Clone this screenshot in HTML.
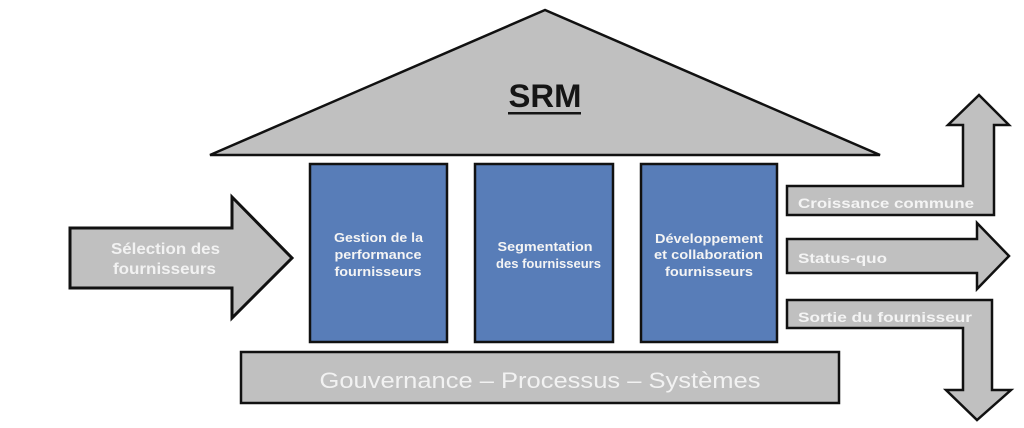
<!DOCTYPE html>
<html>
<head>
<meta charset="utf-8">
<style>
html,body{margin:0;padding:0;background:#fff;}
svg{display:block;}
text{font-family:"Liberation Sans",Arial,sans-serif;}
</style>
</head>
<body>
<svg width="1024" height="428" viewBox="0 0 1024 428" xmlns="http://www.w3.org/2000/svg">
  <rect width="1024" height="428" fill="#fff"/>
  <!-- Roof -->
  <polygon points="545,10 210,155 880,155" fill="#c0c0c0" stroke="#111" stroke-width="2.5" stroke-linejoin="miter"/>
  <text x="545" y="107" font-size="32" font-weight="bold" fill="#151515" text-anchor="middle" textLength="73" lengthAdjust="spacingAndGlyphs">SRM</text>
  <rect x="508" y="112" width="73" height="2.5" fill="#151515"/>

  <!-- Pillars -->
  <rect x="310" y="164" width="137" height="178" fill="#587db8" stroke="#111" stroke-width="2.5"/>
  <rect x="475" y="164" width="138" height="178" fill="#587db8" stroke="#111" stroke-width="2.5"/>
  <rect x="641" y="164" width="136" height="178" fill="#587db8" stroke="#111" stroke-width="2.5"/>

  <g font-size="12.5" font-weight="bold" fill="#f4f4f4" text-anchor="middle" lengthAdjust="spacingAndGlyphs">
    <text x="378.5" y="242" textLength="89" lengthAdjust="spacingAndGlyphs">Gestion de la</text>
    <text x="378" y="259" textLength="87" lengthAdjust="spacingAndGlyphs">performance</text>
    <text x="378" y="276" textLength="87" lengthAdjust="spacingAndGlyphs">fournisseurs</text>

    <text x="545" y="251" textLength="95" lengthAdjust="spacingAndGlyphs">Segmentation</text>
    <text x="548.5" y="268" textLength="105" lengthAdjust="spacingAndGlyphs">des fournisseurs</text>

    <text x="709" y="243" textLength="108" lengthAdjust="spacingAndGlyphs">Développement</text>
    <text x="708.5" y="259" textLength="109" lengthAdjust="spacingAndGlyphs">et collaboration</text>
    <text x="709" y="276" textLength="88" lengthAdjust="spacingAndGlyphs">fournisseurs</text>
  </g>

  <!-- Base -->
  <rect x="241" y="352" width="598" height="51" fill="#c0c0c0" stroke="#111" stroke-width="2.5"/>
  <text x="540" y="388" font-size="22" fill="#f2f2f2" text-anchor="middle" textLength="441" lengthAdjust="spacingAndGlyphs">Gouvernance – Processus – Systèmes</text>

  <!-- Left arrow -->
  <polygon points="70,228 232,228 232,197 292,258 232,318 232,288 70,288" fill="#c0c0c0" stroke="#111" stroke-width="3" stroke-linejoin="miter"/>
  <g font-size="15.5" font-weight="bold" fill="#f2f2f2" text-anchor="middle">
    <text x="165.5" y="254" textLength="109" lengthAdjust="spacingAndGlyphs">Sélection des</text>
    <text x="164.5" y="274" textLength="103" lengthAdjust="spacingAndGlyphs">fournisseurs</text>
  </g>

  <!-- Right arrows -->
  <polygon points="787,186 963,186 963,125 948,125 979,95 1009,125 994,125 994,215 787,215" fill="#c0c0c0" stroke="#111" stroke-width="2.5" stroke-linejoin="miter"/>
  <polygon points="787,239 977,239 977,223 1009,256 977,289 977,273 787,273" fill="#c0c0c0" stroke="#111" stroke-width="2.5" stroke-linejoin="miter"/>
  <polygon points="787,300 992,300 992,390 1011,390 977,420 946,390 963,390 963,328 787,328" fill="#c0c0c0" stroke="#111" stroke-width="2.5" stroke-linejoin="miter"/>

  <g font-size="14" font-weight="bold" fill="#f4f4f4">
    <text x="798" y="208" textLength="176" lengthAdjust="spacingAndGlyphs">Croissance commune</text>
    <text x="798" y="263" textLength="89" lengthAdjust="spacingAndGlyphs">Status-quo</text>
    <text x="798" y="322" textLength="174" lengthAdjust="spacingAndGlyphs">Sortie du fournisseur</text>
  </g>
</svg>
</body>
</html>
